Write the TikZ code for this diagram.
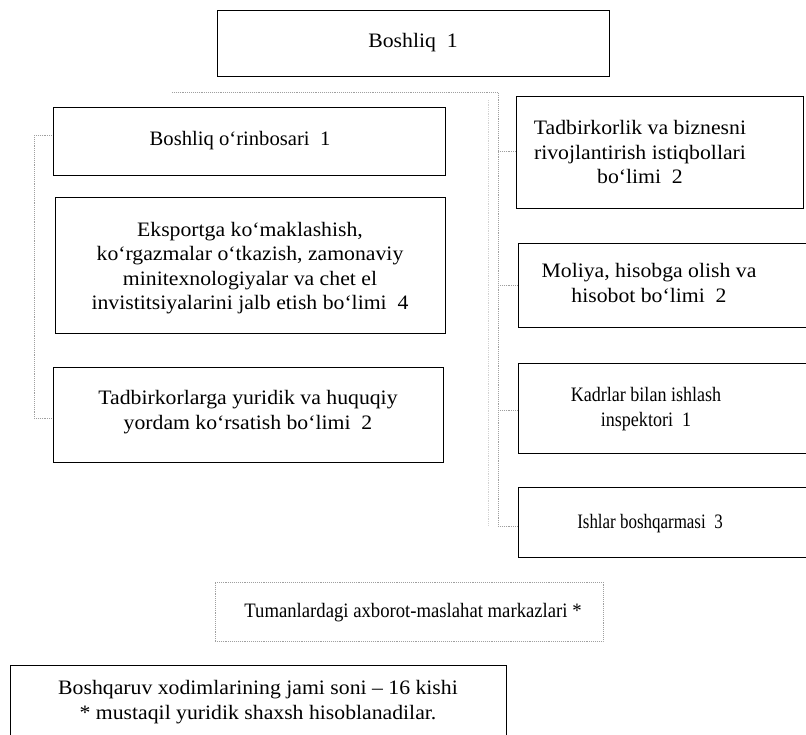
\documentclass[tikz,border=0pt]{standalone}
\usepackage{fontspec}
\setmainfont{Liberation Serif}[FakeStretch=1.06]
\begin{document}
\begin{tikzpicture}[x=1pt,y=-1pt,
  box/.style={draw=black,line width=1pt,inner sep=0pt,rectangle},
  dbox/.style={draw=gray!75,densely dotted,line width=0.9pt,inner sep=0pt,rectangle},
  txt/.style={align=center,inner sep=0pt,font=\fontsize{20.5}{24.5}\selectfont},
  conn/.style={draw=gray!75,densely dotted,line width=0.9pt},
  faint/.style={draw=gray!35,densely dotted,line width=0.8pt}]
\useasboundingbox (0,0) rectangle (806,734);
% boxes
\node[box,minimum width=392pt,minimum height=66pt] (boss) at (413,43) {};
\node[txt] (bosst) at (413,43) {Boshliq\ \ 1};
\node[box,minimum width=392pt,minimum height=68pt] (deputy) at (249,141) {};
\node[txt] (deputyt) at (240,141) {\scalebox{0.95}[1]{Boshliq o‘rinbosari\ \ 1}};
\node[box,minimum width=390pt,minimum height=136pt] (export) at (250,265) {};
\node[txt] (exportt) at (250,268) {Eksportga ko‘maklashish,\\ko‘rgazmalar o‘tkazish, zamonaviy\\minitexnologiyalar va chet el\\invistitsiyalarini jalb etish bo‘limi\ \ 4};
\node[box,minimum width=390pt,minimum height=95pt] (legal) at (248,414.5) {};
\node[txt] (legalt) at (248,412) {Tadbirkorlarga yuridik va huquqiy\\yordam ko‘rsatish bo‘limi\ \ 2};
\node[box,minimum width=287pt,minimum height=112pt] (tadb) at (659.5,152) {};
\node[txt] (tadbt) at (640,152) {Tadbirkorlik va biznesni\\rivojlantirish istiqbollari\\bo‘limi\ \ 2};
\node[box,minimum width=312pt,minimum height=84pt] (moliya) at (674,285) {};
\node[txt] (moliyat) at (649,283) {Moliya, hisobga olish va\\hisobot bo‘limi\ \ 2};
\node[box,minimum width=312pt,minimum height=90pt] (kadr) at (674,408) {};
\node[txt] (kadrt) at (646,409) {\scalebox{0.83}[1]{Kadrlar bilan ishlash}\\\scalebox{0.83}[1]{inspektori\ \ 1}};
\node[box,minimum width=312pt,minimum height=70pt] (ishlar) at (674,522) {};
\node[txt] (ishlart) at (650,524) {\scalebox{0.78}[1]{Ishlar boshqarmasi\ \ 3}};
\node[dbox,minimum width=388pt,minimum height=59pt] (tuman) at (409,611.5) {};
\node[txt] (tumant) at (413,613) {\scalebox{0.86}[1]{Tumanlardagi axborot-maslahat markazlari *}};
\node[box,minimum width=496pt,minimum height=100pt] (note) at (258,715) {};
\node[txt] (notet) at (258,702) {Boshqaruv xodimlarining jami soni – 16 kishi\\* mustaqil yuridik shaxsh hisoblanadilar.};
% connectors
\coordinate (tl) at (172,92);
\coordinate (tr) at (498,92);
\coordinate (rb) at (498,526);
\coordinate (lt) at (34,135);
\coordinate (lb) at (34,418);
\coordinate (r1) at (498,151);
\coordinate (r2) at (498,285);
\coordinate (r3) at (498,410);
\draw[conn] (tl) -- (tr) -- (rb);
\draw[conn] (rb) -- (rb -| ishlar.west);
\draw[conn] (r1) -- (r1 -| tadb.west);
\draw[conn] (r2) -- (r2 -| moliya.west);
\draw[conn] (r3) -- (r3 -| kadr.west);
\draw[faint] (488,100) -- (488,526);
\draw[conn] (lt) -- (lb);
\draw[conn] (lt) -- (lt -| deputy.west);
\draw[conn] (lb) -- (lb -| legal.west);
\end{tikzpicture}
\end{document}
